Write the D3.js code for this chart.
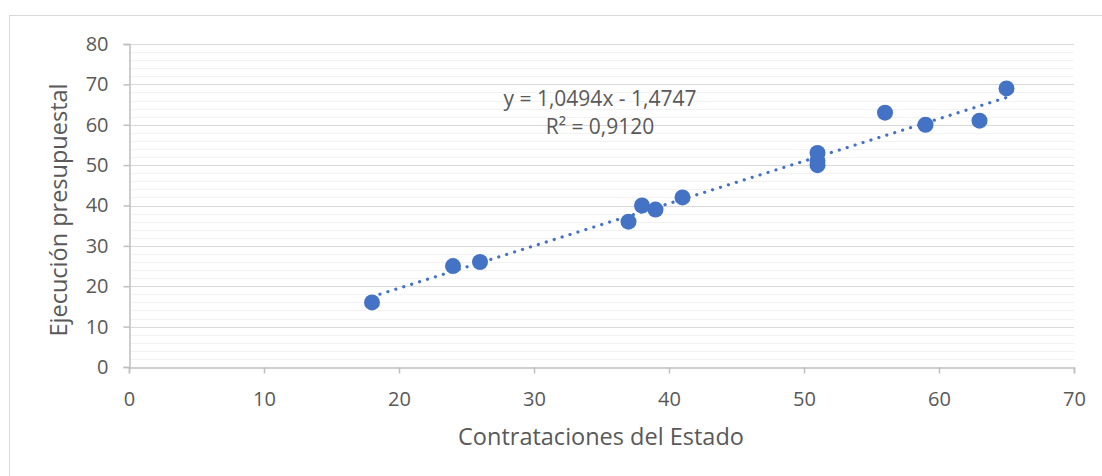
<!DOCTYPE html>
<html>
<head>
<meta charset="utf-8">
<script src="https://cdn.jsdelivr.net/npm/d3@7"></script>
<style>
  body { margin: 0; background: #fff; }
  text { font-family: "Open Sans", sans-serif; fill: #595959; }
</style>
</head>
<body>
<script>
// datos
let contrataciones = [18, 24, 26, 37, 38, 39, 41, 51, 51, 51, 56, 59, 63, 65];
let ejecucion      = [16, 25, 26, 36, 40, 39, 42, 50, 51, 53, 63, 60, 61, 69];
let xTicks = [0, 10, 20, 30, 40, 50, 60, 70];
let yTicks = [0, 10, 20, 30, 40, 50, 60, 70, 80];
let pendiente = 1.0494, intercepto = -1.4747;
let etiquetas = ['y = 1,0494x - 1,4747', 'R² = 0,9120'];

let svg = d3.select('body').append('svg').attr('width', 1102).attr('height', 476);

// marco exterior
svg.append('rect').attr('x', 9.5).attr('y', 15.5).attr('width', 1110).attr('height', 480)
   .attr('fill', 'none').attr('stroke', '#d9d9d9');

let x = d3.scaleLinear().domain([0, 70]).range([129, 1074]);
let y = d3.scaleLinear().domain([0, 80]).range([367, 44]);

// lineas de division menores y mayores
let menores = d3.range(0, 81, 2).filter(v => v % 10 !== 0);
svg.selectAll('.menor').data(menores).enter().append('line')
   .attr('x1', x(0)).attr('x2', x(70))
   .attr('y1', d => Math.round(y(d)) + 0.5).attr('y2', d => Math.round(y(d)) + 0.5)
   .attr('stroke', '#f2f2f2').attr('stroke-width', 1);
svg.selectAll('.mayor').data(yTicks.slice(1)).enter().append('line')
   .attr('x1', x(0)).attr('x2', x(70))
   .attr('y1', d => Math.round(y(d)) + 0.5).attr('y2', d => Math.round(y(d)) + 0.5)
   .attr('stroke', '#d9d9d9').attr('stroke-width', 1);

// ejes
let ejeX = svg.append('g').attr('transform', 'translate(0,' + (y(0) + 0.5) + ')')
   .call(d3.axisBottom(x).tickValues(xTicks).tickSize(6).tickPadding(18));
let ejeY = svg.append('g').attr('transform', 'translate(' + (x(0) + 0.5) + ',0)')
   .call(d3.axisLeft(y).tickValues(yTicks).tickSize(6).tickPadding(15));
[ejeX, ejeY].forEach(function(g) {
  g.select('.domain').attr('stroke', '#bfbfbf').attr('stroke-width', 1.5);
  g.selectAll('.tick line').attr('stroke', '#bfbfbf').attr('stroke-width', 1.5);
  g.selectAll('.tick text').attr('fill', '#595959').attr('font-size', '20px')
   .attr('font-family', '"Open Sans", sans-serif');
});

// linea de tendencia
let xs = d3.extent(contrataciones);
svg.append('line')
   .attr('x1', x(xs[0])).attr('y1', y(pendiente * xs[0] + intercepto))
   .attr('x2', x(xs[1])).attr('y2', y(pendiente * xs[1] + intercepto))
   .attr('stroke', '#4472c4').attr('stroke-width', 3.2)
   .attr('stroke-linecap', 'round').attr('stroke-dasharray', '0.1 8.2');

// puntos
svg.selectAll('circle').data(contrataciones).enter().append('circle')
   .attr('cx', d => x(d))
   .attr('cy', (d, i) => y(ejecucion[i]))
   .attr('r', 8)
   .attr('fill', '#4472c4');

// ecuacion
svg.selectAll('.eq').data(etiquetas).enter().append('text')
   .attr('x', 600).attr('y', (d, i) => 106 + i * 28)
   .attr('text-anchor', 'middle').attr('font-size', '21px')
   .text(d => d);

// titulos de ejes
svg.append('text').attr('x', 601).attr('y', 445).attr('text-anchor', 'middle')
   .attr('font-size', '23.5px').text('Contrataciones del Estado');
svg.append('text').attr('transform', 'translate(67,210) rotate(-90)').attr('text-anchor', 'middle')
   .attr('font-size', '23.5px').text('Ejecución presupuestal');
</script>
</body>
</html>
